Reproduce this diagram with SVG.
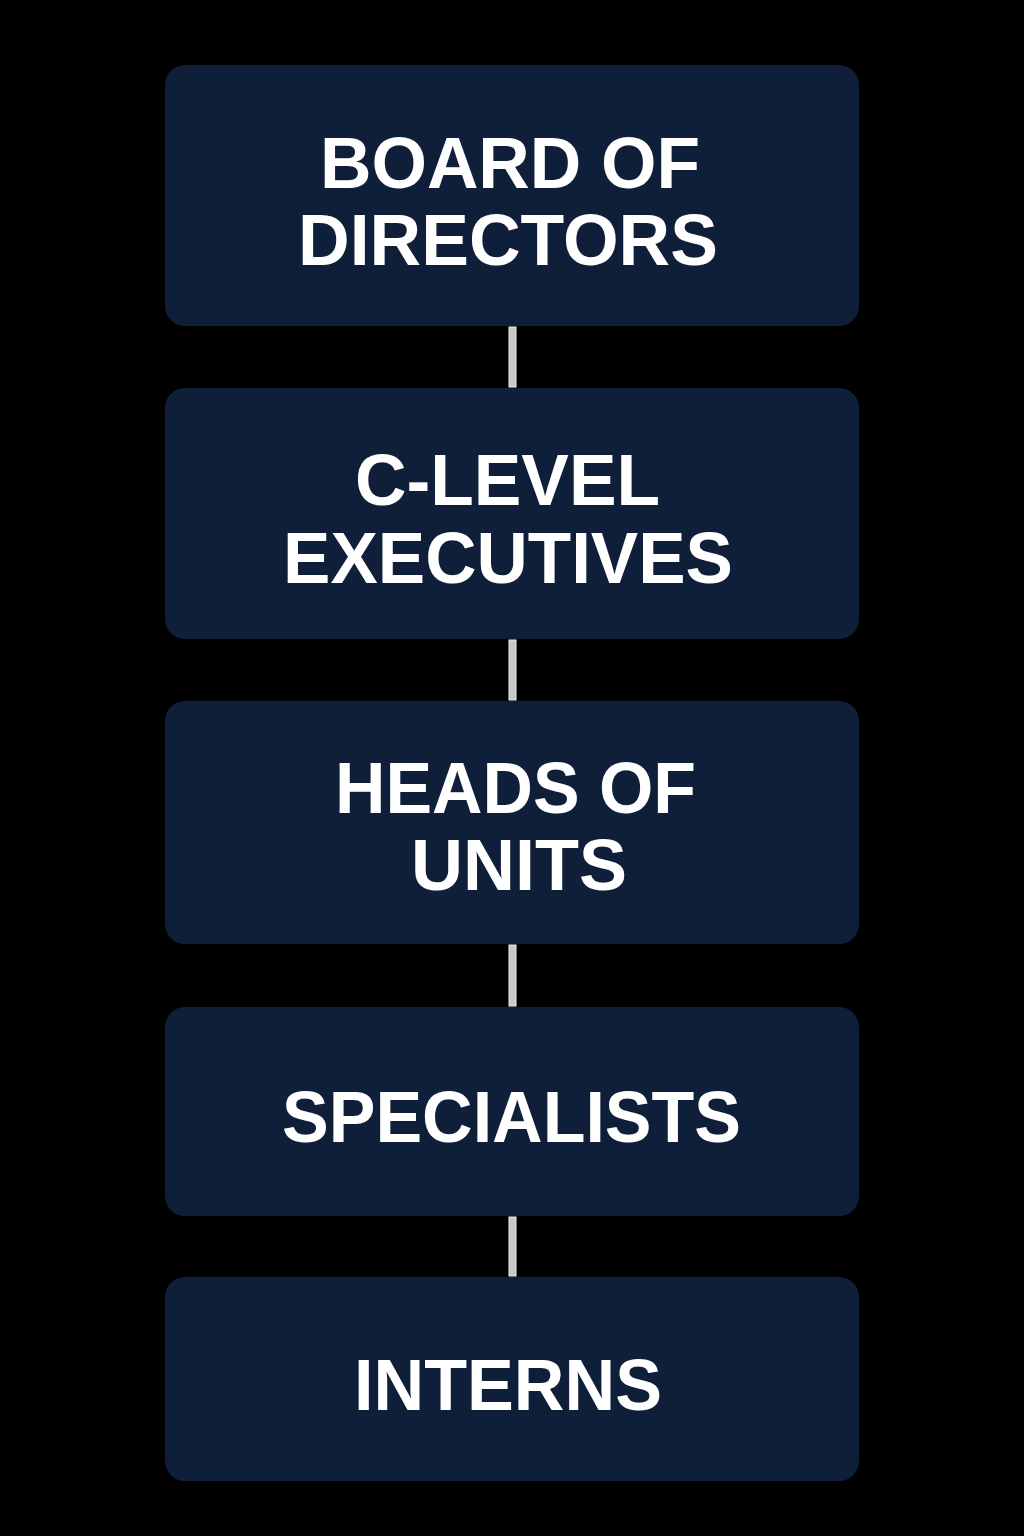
<svg xmlns="http://www.w3.org/2000/svg" width="1024" height="1536" viewBox="0 0 1024 1536">
<style>
.box{fill:#0f1f3a}
.lbl{fill:#ffffff;font-family:"Liberation Sans",Arial,sans-serif;font-weight:bold;font-size:73px}
.conn{fill:#c8c8c8;stroke:#eeeeee;stroke-width:1}
</style>
<rect width="1024" height="1536" fill="#000000"/>
<g id="connectors">
<rect class="conn" x="509" y="327" width="7" height="60"/>
<rect class="conn" x="509" y="640" width="7" height="60"/>
<rect class="conn" x="509" y="945" width="7" height="61"/>
<rect class="conn" x="509" y="1217" width="7" height="59"/>
</g>
<g id="board">
<rect class="box" x="165" y="65" width="694" height="261" rx="20"/>
<text class="lbl" x="320" y="188" textLength="380" lengthAdjust="spacingAndGlyphs">BOARD OF</text>
<text class="lbl" x="298" y="265" textLength="420" lengthAdjust="spacingAndGlyphs">DIRECTORS</text>
</g>
<g id="clevel">
<rect class="box" x="165" y="388" width="694" height="251" rx="20"/>
<text class="lbl" x="355" y="505" textLength="305" lengthAdjust="spacingAndGlyphs">C-LEVEL</text>
<text class="lbl" x="283" y="583" textLength="450" lengthAdjust="spacingAndGlyphs">EXECUTIVES</text>
</g>
<g id="heads">
<rect class="box" x="165" y="701" width="694" height="243" rx="20"/>
<text class="lbl" x="335" y="813" textLength="361" lengthAdjust="spacingAndGlyphs">HEADS OF</text>
<text class="lbl" x="411" y="890" textLength="216" lengthAdjust="spacingAndGlyphs">UNITS</text>
</g>
<g id="specialists">
<rect class="box" x="165" y="1007" width="694" height="209" rx="20"/>
<text class="lbl" x="282" y="1142" textLength="459" lengthAdjust="spacingAndGlyphs">SPECIALISTS</text>
</g>
<g id="interns">
<rect class="box" x="165" y="1277" width="694" height="204" rx="20"/>
<text class="lbl" x="354" y="1410" textLength="308" lengthAdjust="spacingAndGlyphs">INTERNS</text>
</g>
</svg>
